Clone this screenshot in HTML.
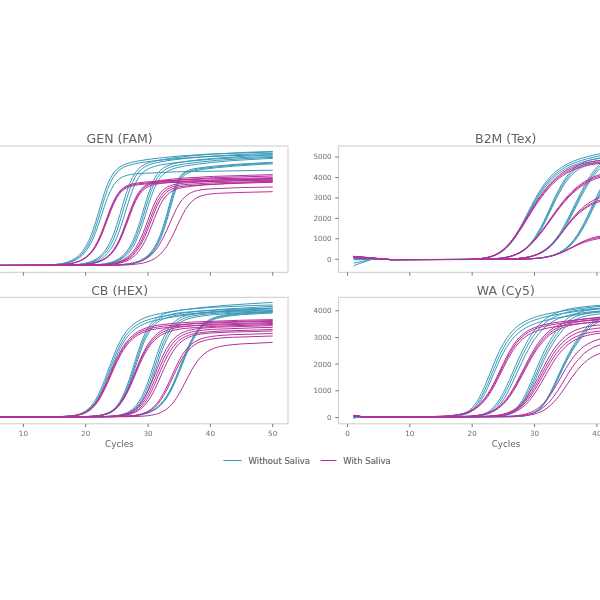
<!DOCTYPE html>
<html><head><meta charset="utf-8"><title>qPCR curves</title>
<style>
html,body{margin:0;padding:0;background:#fff;}
body{width:600px;height:600px;overflow:hidden;position:relative;}
svg{position:absolute;left:0;top:0;display:block;}
text{font-family:"DejaVu Sans","Liberation Sans",sans-serif;fill:#626262;}
.t{font-size:12.5px;text-anchor:middle;}
.k{font-size:7.2px;fill:#6e6e6e;}
.xl{font-size:8.8px;text-anchor:middle;}
.lg{font-family:"DejaVu Sans Condensed","DejaVu Sans","Liberation Sans",sans-serif;font-size:9.45px;stroke:#6a6a6a;stroke-width:0.2px;fill:#666;}
.c path{fill:none;stroke-width:1;stroke-linejoin:round;stroke-linecap:butt;}
.ax{fill:none;stroke:#d4d4d4;stroke-width:1.2;}
.tk{stroke:#555;stroke-width:0.8;fill:none;}
</style></head><body>
<svg width="600" height="600" viewBox="0 0 600 600">

<rect class="ax" x="-48.0" y="146.0" width="336.0" height="126.4"/>
<rect class="ax" x="-48.0" y="297.4" width="336.0" height="126.4"/>
<rect class="ax" x="338.5" y="146.0" width="336.0" height="126.4"/>
<rect class="ax" x="338.5" y="297.4" width="336.0" height="126.4"/>
<g class="c"><path d="M-32.7 265.5L35.8 265.3L45.2 265.1L51.4 264.8L54.6 264.5L57.7 264.2L60.8 263.7L63.9 263.1L67.0 262.2L70.1 261.1L73.3 259.6L76.4 257.6L79.5 254.9L82.6 251.3L85.7 246.6L88.8 240.6L92.0 233.0L95.1 223.9L98.2 213.7L101.3 203.0L104.4 192.9L107.5 184.3L110.7 177.6L113.8 172.7L116.9 169.3L120.0 166.9L123.1 165.2L126.2 163.9L129.4 162.9L132.5 162.1L138.7 160.9L148.1 159.4L163.6 157.5L182.3 155.8L210.4 154.0L269.6 152.1L272.7 152.0M-32.7 265.5L35.8 265.4L48.3 265.0L54.6 264.6L57.7 264.3L60.8 264.0L63.9 263.4L67.0 262.7L70.1 261.7L73.3 260.4L76.4 258.7L79.5 256.4L82.6 253.3L85.7 249.3L88.8 244.0L92.0 237.3L95.1 229.0L98.2 219.4L104.4 198.6L107.5 189.4L110.7 181.9L113.8 176.3L116.9 172.3L120.0 169.5L123.1 167.5L126.2 166.1L129.4 165.1L132.5 164.3L135.6 163.6L141.8 162.5L151.2 161.2L166.8 159.5L188.6 157.7L226.0 155.8L272.7 154.6M-32.7 265.5L39.0 265.3L48.3 265.1L54.6 264.7L57.7 264.5L60.8 264.1L63.9 263.6L67.0 263.0L70.1 262.2L73.3 261.1L76.4 259.6L79.5 257.6L82.6 254.9L85.7 251.4L88.8 246.9L92.0 241.1L95.1 233.9L98.2 225.4L104.4 206.4L107.5 197.6L110.7 190.3L113.8 184.8L116.9 181.0L120.0 178.4L123.1 176.7L126.2 175.6L129.4 174.8L132.5 174.3L135.6 173.9L141.8 173.4L176.1 171.8L272.7 170.2M-32.7 265.5L57.7 265.3L67.0 265.1L73.3 264.8L76.4 264.5L79.5 264.2L82.6 263.7L85.7 263.1L88.8 262.3L92.0 261.2L95.1 259.7L98.2 257.7L101.3 255.1L104.4 251.6L107.5 247.0L110.7 241.0L113.8 233.6L116.9 224.5L120.0 214.3L123.1 203.5L126.2 193.2L129.4 184.3L132.5 177.4L135.6 172.3L138.7 168.6L141.8 166.1L144.9 164.3L148.1 163.0L151.2 162.0L154.3 161.2L157.4 160.5L163.6 159.4L173.0 158.0L188.6 156.1L210.4 154.3L241.6 152.5L272.7 151.4M-32.7 265.5L57.7 265.4L70.1 265.1L76.4 264.7L79.5 264.4L82.6 264.0L85.7 263.5L88.8 262.8L92.0 261.9L95.1 260.7L98.2 259.0L101.3 256.8L104.4 253.9L107.5 250.0L110.7 244.9L113.8 238.5L116.9 230.4L120.0 221.0L126.2 200.0L129.4 190.3L132.5 182.4L135.6 176.3L138.7 172.0L141.8 168.9L144.9 166.8L148.1 165.3L151.2 164.1L154.3 163.2L157.4 162.5L163.6 161.3L173.0 159.9L188.6 158.1L210.4 156.2L241.6 154.4L272.7 153.3M-32.7 265.5L60.8 265.4L73.3 265.0L79.5 264.6L82.6 264.4L85.7 264.0L88.8 263.4L92.0 262.7L95.1 261.7L98.2 260.5L101.3 258.7L104.4 256.4L107.5 253.3L110.7 249.3L113.8 244.0L116.9 237.3L120.0 229.1L123.1 219.6L129.4 199.2L132.5 190.1L135.6 182.8L138.7 177.4L141.8 173.5L144.9 170.8L148.1 168.9L151.2 167.5L154.3 166.5L157.4 165.7L160.5 165.0L166.8 163.9L176.1 162.6L191.7 160.9L213.5 159.1L247.8 157.3L272.7 156.5M-32.7 265.5L79.5 265.3L88.8 265.1L95.1 264.8L98.2 264.5L101.3 264.2L104.4 263.8L107.5 263.2L110.7 262.4L113.8 261.3L116.9 259.9L120.0 258.0L123.1 255.4L126.2 252.0L129.4 247.5L132.5 241.7L135.6 234.5L138.7 225.7L141.8 215.6L144.9 205.0L148.1 194.8L151.2 186.0L154.3 179.0L157.4 173.9L160.5 170.3L163.6 167.8L166.8 166.1L169.9 164.9L173.0 163.9L176.1 163.1L179.2 162.5L185.5 161.5L197.9 159.9L216.6 158.1L244.7 156.2L272.7 155.0M-32.7 265.5L79.5 265.4L92.0 265.0L98.2 264.7L101.3 264.4L104.4 264.0L107.5 263.5L110.7 262.8L113.8 261.8L116.9 260.6L120.0 258.9L123.1 256.7L126.2 253.7L129.4 249.7L132.5 244.6L135.6 238.1L138.7 230.0L141.8 220.6L148.1 200.0L151.2 190.8L154.3 183.2L157.4 177.5L160.5 173.5L163.6 170.7L166.8 168.7L169.9 167.3L173.0 166.3L176.1 165.5L179.2 164.9L185.5 163.8L197.9 162.2L216.6 160.4L244.7 158.6L272.7 157.4M-32.7 265.5L82.6 265.3L92.0 265.1L98.2 264.8L101.3 264.6L104.4 264.2L107.5 263.8L110.7 263.2L113.8 262.4L116.9 261.4L120.0 259.9L123.1 258.0L126.2 255.5L129.4 252.1L132.5 247.6L135.6 241.9L138.7 234.7L141.8 226.1L144.9 216.3L148.1 206.2L151.2 196.6L154.3 188.4L157.4 182.1L160.5 177.4L163.6 174.1L166.8 171.8L169.9 170.1L173.0 168.9L176.1 167.9L179.2 167.2L185.5 165.9L194.8 164.5L210.4 162.6L232.2 160.6L263.4 158.8L272.7 158.4M-32.7 265.5L101.3 265.4L113.8 265.1L120.0 264.7L123.1 264.4L126.2 264.1L129.4 263.6L132.5 263.0L135.6 262.2L138.7 261.1L141.8 259.7L144.9 257.8L148.1 255.3L151.2 251.9L154.3 247.6L157.4 241.8L160.5 234.4L163.6 225.2L166.8 214.4L169.9 202.8L173.0 192.0L176.1 183.4L179.2 177.5L182.3 173.8L185.5 171.6L188.6 170.2L191.7 169.3L194.8 168.6L201.0 167.7L213.5 166.2L235.3 164.3L269.6 162.4L272.7 162.3M-32.7 265.5L104.4 265.3L113.8 265.1L120.0 264.8L126.2 264.2L129.4 263.8L132.5 263.2L135.6 262.4L138.7 261.4L141.8 260.1L144.9 258.3L148.1 256.0L151.2 252.9L154.3 248.8L157.4 243.4L160.5 236.5L163.6 227.7L166.8 217.3L169.9 205.9L173.0 194.9L176.1 185.9L179.2 179.5L182.3 175.4L185.5 172.9L188.6 171.4L191.7 170.4L194.8 169.7L197.9 169.1L204.2 168.2L219.8 166.5L241.6 164.7L272.7 163.0M-32.7 265.5L104.4 265.3L116.9 265.0L123.1 264.6L126.2 264.3L129.4 263.9L132.5 263.4L135.6 262.7L138.7 261.8L141.8 260.6L144.9 259.0L148.1 256.8L151.2 254.0L154.3 250.2L157.4 245.3L160.5 238.8L163.6 230.7L166.8 220.8L173.0 198.5L176.1 188.9L179.2 181.8L182.3 177.2L185.5 174.4L188.6 172.7L191.7 171.6L194.8 170.8L197.9 170.2L204.2 169.2L216.6 167.7L235.3 166.0L263.4 164.2L272.7 163.8" stroke="#3a9ab8"/>
<path d="M-32.7 265.5L45.2 265.3L54.6 265.1L60.8 264.7L63.9 264.4L67.0 264.1L70.1 263.6L73.3 262.9L76.4 262.0L79.5 260.9L82.6 259.3L85.7 257.2L88.8 254.4L92.0 250.8L95.1 246.1L98.2 240.3L101.3 233.1L104.4 224.9L107.5 216.3L110.7 207.9L113.8 200.7L116.9 195.0L120.0 190.9L123.1 188.0L126.2 186.1L129.4 184.8L132.5 183.9L135.6 183.3L138.7 182.8L144.9 182.1L163.6 180.7L210.4 178.8L272.7 177.7M-32.7 265.5L45.2 265.3L54.6 265.1L60.8 264.7L63.9 264.5L67.0 264.1L70.1 263.6L73.3 263.0L76.4 262.2L79.5 261.0L82.6 259.5L85.7 257.5L88.8 254.9L92.0 251.4L95.1 246.9L98.2 241.2L101.3 234.2L104.4 226.2L107.5 217.7L110.7 209.4L113.8 202.1L116.9 196.3L120.0 192.0L123.1 189.1L126.2 187.1L129.4 185.8L132.5 184.9L135.6 184.3L138.7 183.8L144.9 183.1L166.8 181.7L229.1 179.8L272.7 179.2M-32.7 265.5L45.2 265.3L54.6 265.1L60.8 264.8L63.9 264.5L67.0 264.2L70.1 263.7L73.3 263.1L76.4 262.3L79.5 261.3L82.6 259.8L85.7 257.9L88.8 255.4L92.0 252.1L95.1 247.8L98.2 242.3L101.3 235.6L104.4 227.8L110.7 211.0L113.8 203.6L116.9 197.7L120.0 193.3L123.1 190.2L126.2 188.1L129.4 186.8L132.5 185.8L135.6 185.2L138.7 184.7L144.9 184.0L166.8 182.7L232.2 180.7L272.7 180.2M-32.7 265.5L63.9 265.4L76.4 265.0L82.6 264.6L85.7 264.3L88.8 263.9L92.0 263.4L95.1 262.7L98.2 261.7L101.3 260.4L104.4 258.7L107.5 256.4L110.7 253.4L113.8 249.5L116.9 244.4L120.0 238.0L123.1 230.4L126.2 221.9L129.4 213.0L132.5 204.7L135.6 197.7L138.7 192.3L141.8 188.4L144.9 185.7L148.1 183.9L151.2 182.6L154.3 181.7L157.4 181.0L160.5 180.5L166.8 179.7L182.3 178.2L213.5 176.4L272.7 174.6M-32.7 265.5L63.9 265.4L76.4 265.0L82.6 264.7L85.7 264.4L88.8 264.0L92.0 263.5L95.1 262.8L98.2 261.9L101.3 260.7L104.4 259.0L107.5 256.9L110.7 254.0L113.8 250.2L116.9 245.3L120.0 239.2L123.1 231.9L126.2 223.5L129.4 214.8L132.5 206.5L135.6 199.4L138.7 193.9L141.8 189.9L144.9 187.1L148.1 185.2L151.2 183.9L154.3 183.0L157.4 182.3L160.5 181.8L166.8 181.0L182.3 179.6L213.5 177.7L272.7 176.0M-32.7 265.5L63.9 265.4L76.4 265.1L82.6 264.7L85.7 264.4L88.8 264.1L92.0 263.6L95.1 262.9L98.2 262.1L101.3 260.9L104.4 259.3L107.5 257.2L110.7 254.5L113.8 250.9L116.9 246.2L120.0 240.3L123.1 233.2L126.2 225.1L129.4 216.5L132.5 208.3L135.6 201.2L138.7 195.6L141.8 191.5L144.9 188.7L148.1 186.8L151.2 185.5L154.3 184.6L157.4 184.0L160.5 183.5L166.8 182.7L185.5 181.3L226.0 179.5L272.7 178.4M-32.7 265.5L85.7 265.3L95.1 265.1L101.3 264.8L104.4 264.5L107.5 264.2L110.7 263.8L113.8 263.2L116.9 262.4L120.0 261.3L123.1 259.9L126.2 258.0L129.4 255.5L132.5 252.2L135.6 248.0L138.7 242.6L141.8 236.0L144.9 228.3L151.2 211.4L154.3 203.8L157.4 197.6L160.5 192.9L163.6 189.6L166.8 187.4L169.9 185.9L173.0 184.8L176.1 184.2L179.2 183.6L185.5 183.0L204.2 181.8L272.7 179.8M-32.7 265.5L85.7 265.4L98.2 265.0L104.4 264.7L107.5 264.4L110.7 264.0L113.8 263.5L116.9 262.8L120.0 261.9L123.1 260.7L126.2 259.1L129.4 257.0L132.5 254.1L135.6 250.4L138.7 245.7L141.8 239.8L144.9 232.7L148.1 224.7L151.2 216.3L154.3 208.4L157.4 201.6L160.5 196.3L163.6 192.4L166.8 189.7L169.9 187.9L173.0 186.7L176.1 185.9L179.2 185.3L182.3 184.9L188.6 184.3L213.5 182.8L272.7 181.2M-32.7 265.5L88.8 265.3L98.2 265.1L104.4 264.8L107.5 264.5L110.7 264.2L113.8 263.8L116.9 263.2L120.0 262.4L123.1 261.3L126.2 259.9L129.4 258.1L132.5 255.6L135.6 252.3L138.7 248.1L141.8 242.8L144.9 236.3L148.1 228.7L154.3 212.5L157.4 205.3L160.5 199.5L163.6 195.2L166.8 192.1L169.9 190.0L173.0 188.6L176.1 187.6L179.2 186.9L182.3 186.4L188.6 185.7L207.3 184.4L260.3 182.6L272.7 182.3M-32.7 265.5L92.0 265.3L101.3 265.1L107.5 264.7L110.7 264.5L113.8 264.1L116.9 263.7L120.0 263.0L123.1 262.2L126.2 261.1L129.4 259.5L132.5 257.5L135.6 254.9L138.7 251.4L141.8 246.9L144.9 241.3L148.1 234.5L151.2 226.8L154.3 218.7L157.4 211.0L160.5 204.4L163.6 199.1L166.8 195.3L169.9 192.5L173.0 190.6L176.1 189.3L179.2 188.3L182.3 187.6L185.5 187.1L191.7 186.2L204.2 185.0L229.1 183.3L272.7 181.5M-32.7 265.5L104.4 265.3L116.9 265.0L123.1 264.6L126.2 264.4L129.4 264.0L132.5 263.5L135.6 262.9L138.7 262.0L141.8 260.9L144.9 259.4L148.1 257.5L151.2 255.0L154.3 251.8L157.4 247.8L160.5 242.8L163.6 236.9L166.8 230.2L173.0 216.0L176.1 209.5L179.2 204.0L182.3 199.6L185.5 196.4L188.6 194.0L191.7 192.4L194.8 191.2L197.9 190.4L201.0 189.8L204.2 189.4L210.4 188.9L241.6 187.6L272.7 187.0M-32.7 265.5L113.8 265.3L123.1 265.1L129.4 264.8L135.6 264.2L138.7 263.8L141.8 263.3L144.9 262.6L148.1 261.6L151.2 260.4L154.3 258.8L157.4 256.7L160.5 254.0L163.6 250.5L166.8 246.2L169.9 241.0L173.0 235.0L179.2 221.6L182.3 215.2L185.5 209.6L188.6 205.1L191.7 201.6L194.8 199.0L197.9 197.2L201.0 196.0L204.2 195.1L207.3 194.4L210.4 194.0L216.6 193.4L238.5 192.5L272.7 191.7" stroke="#b5309b"/></g>
<g class="c"><path d="M-32.7 416.8L54.6 416.7L63.9 416.4L67.0 416.2L70.1 415.9L73.3 415.5L76.4 414.9L79.5 414.0L82.6 412.7L85.7 410.9L88.8 408.4L92.0 405.0L95.1 400.6L98.2 395.0L101.3 388.2L104.4 380.5L110.7 363.6L113.8 355.4L116.9 348.0L120.0 341.5L123.1 336.0L126.2 331.5L129.4 327.9L132.5 325.0L135.6 322.6L138.7 320.7L141.8 319.2L144.9 317.8L148.1 316.7L151.2 315.8L154.3 314.9L160.5 313.5L169.9 311.8L182.3 309.9L201.0 307.6L226.0 305.3L263.4 302.9L272.7 302.5M-32.7 416.8L54.6 416.7L63.9 416.4L70.1 416.0L73.3 415.7L76.4 415.1L79.5 414.3L82.6 413.2L85.7 411.7L88.8 409.4L92.0 406.4L95.1 402.5L98.2 397.3L101.3 391.1L104.4 383.8L107.5 375.8L113.8 359.3L116.9 351.8L120.0 345.2L123.1 339.6L126.2 334.9L129.4 331.2L132.5 328.2L135.6 325.7L138.7 323.8L141.8 322.2L144.9 320.9L148.1 319.8L151.2 318.8L154.3 318.0L160.5 316.7L169.9 315.0L182.3 313.2L201.0 311.1L229.1 308.8L272.7 306.4M-32.7 416.8L54.6 416.7L63.9 416.5L70.1 416.1L73.3 415.8L76.4 415.3L79.5 414.6L82.6 413.7L85.7 412.2L88.8 410.3L92.0 407.6L95.1 404.0L98.2 399.3L101.3 393.5L104.4 386.6L107.5 379.0L113.8 362.9L116.9 355.4L120.0 348.7L123.1 343.0L126.2 338.2L129.4 334.3L132.5 331.2L135.6 328.7L138.7 326.6L141.8 325.0L144.9 323.6L148.1 322.4L151.2 321.5L154.3 320.6L160.5 319.2L166.8 318.0L179.2 316.0L197.9 313.7L222.9 311.4L260.3 309.1L272.7 308.5M-32.7 416.8L79.5 416.7L88.8 416.4L92.0 416.3L95.1 416.0L98.2 415.6L101.3 415.1L104.4 414.3L107.5 413.1L110.7 411.5L113.8 409.1L116.9 405.8L120.0 401.3L123.1 395.4L126.2 388.0L129.4 379.2L132.5 369.4L135.6 359.3L138.7 349.6L141.8 341.0L144.9 333.7L148.1 327.9L151.2 323.4L154.3 320.0L157.4 317.5L160.5 315.6L163.6 314.1L166.8 313.0L169.9 312.2L173.0 311.5L176.1 310.9L182.3 310.0L191.7 309.0L213.5 307.3L254.0 305.5L272.7 305.0M-32.7 416.8L79.5 416.7L88.8 416.5L95.1 416.1L98.2 415.8L101.3 415.3L104.4 414.6L107.5 413.5L110.7 412.0L113.8 409.9L116.9 407.0L120.0 402.9L123.1 397.5L126.2 390.6L129.4 382.3L132.5 372.9L138.7 353.3L141.8 344.5L144.9 337.0L148.1 330.9L151.2 326.2L154.3 322.7L157.4 320.0L160.5 318.0L163.6 316.6L166.8 315.4L169.9 314.6L173.0 313.9L176.1 313.3L182.3 312.5L191.7 311.6L216.6 309.9L272.7 308.0M-32.7 416.8L82.6 416.7L92.0 416.4L95.1 416.2L98.2 415.9L101.3 415.4L104.4 414.8L107.5 413.9L110.7 412.5L113.8 410.6L116.9 407.9L120.0 404.2L123.1 399.2L126.2 392.8L129.4 385.0L132.5 375.9L138.7 356.7L141.8 347.8L144.9 340.1L148.1 333.9L151.2 329.0L154.3 325.2L157.4 322.4L160.5 320.4L163.6 318.8L166.8 317.6L169.9 316.7L173.0 316.0L176.1 315.4L182.3 314.6L191.7 313.6L213.5 312.1L263.4 310.2L272.7 310.0M-32.7 416.8L95.1 416.7L104.4 416.5L110.7 416.2L113.8 415.9L116.9 415.5L120.0 414.9L123.1 414.1L126.2 413.0L129.4 411.4L132.5 409.1L135.6 406.1L138.7 401.9L141.8 396.5L144.9 389.8L148.1 381.7L151.2 372.5L157.4 353.4L160.5 344.8L163.6 337.4L166.8 331.4L169.9 326.7L173.0 323.2L176.1 320.5L179.2 318.5L182.3 317.0L185.5 315.8L188.6 315.0L191.7 314.3L194.8 313.7L201.0 312.8L210.4 311.8L232.2 310.2L272.7 308.5M-32.7 416.8L98.2 416.7L107.5 416.4L113.8 416.0L116.9 415.7L120.0 415.2L123.1 414.6L126.2 413.6L129.4 412.2L132.5 410.4L135.6 407.8L138.7 404.2L141.8 399.5L144.9 393.5L148.1 386.1L151.2 377.5L157.4 358.7L160.5 349.7L163.6 341.9L166.8 335.3L169.9 330.1L173.0 326.1L176.1 323.1L179.2 320.8L182.3 319.1L185.5 317.9L188.6 316.9L191.7 316.2L194.8 315.6L201.0 314.7L210.4 313.7L232.2 312.2L272.7 310.5M-32.7 416.8L98.2 416.7L107.5 416.5L113.8 416.2L116.9 415.9L120.0 415.5L123.1 414.9L126.2 414.1L129.4 413.0L132.5 411.4L135.6 409.1L138.7 406.1L141.8 402.0L144.9 396.6L148.1 389.9L151.2 381.9L154.3 373.0L160.5 354.5L163.6 346.3L166.8 339.2L169.9 333.5L173.0 329.1L176.1 325.7L179.2 323.1L182.3 321.2L185.5 319.8L188.6 318.7L191.7 317.8L194.8 317.1L197.9 316.6L204.2 315.7L213.5 314.7L235.3 313.1L272.7 311.5M-32.7 416.8L110.7 416.6L123.1 416.3L129.4 416.0L132.5 415.7L135.6 415.4L138.7 414.9L141.8 414.3L144.9 413.5L148.1 412.5L151.2 411.1L154.3 409.3L157.4 407.0L160.5 404.1L163.6 400.4L166.8 395.9L169.9 390.4L173.0 384.0L176.1 376.7L185.5 353.0L188.6 345.8L191.7 339.3L194.8 333.9L197.9 329.4L201.0 325.9L204.2 323.0L207.3 320.9L210.4 319.2L213.5 317.8L216.6 316.8L219.8 316.0L222.9 315.4L226.0 314.8L232.2 314.0L241.6 313.2L266.5 311.8L272.7 311.5M-32.7 416.8L110.7 416.7L123.1 416.4L129.4 416.0L135.6 415.5L138.7 415.0L141.8 414.5L144.9 413.7L148.1 412.7L151.2 411.4L154.3 409.7L157.4 407.6L160.5 404.8L163.6 401.3L166.8 396.9L169.9 391.6L173.0 385.4L176.1 378.4L179.2 370.7L185.5 354.9L188.6 347.5L191.7 341.0L194.8 335.4L197.9 330.8L201.0 327.1L204.2 324.2L207.3 321.9L210.4 320.1L213.5 318.7L216.6 317.7L219.8 316.8L222.9 316.2L226.0 315.6L232.2 314.8L241.6 313.9L266.5 312.5L272.7 312.2M-32.7 416.8L110.7 416.7L123.1 416.4L129.4 416.1L135.6 415.5L138.7 415.1L141.8 414.6L144.9 413.8L148.1 412.9L151.2 411.7L154.3 410.1L157.4 408.0L160.5 405.3L163.6 402.0L166.8 397.8L169.9 392.7L173.0 386.6L176.1 379.7L179.2 372.2L185.5 356.5L188.6 349.1L191.7 342.4L194.8 336.7L197.9 332.0L201.0 328.2L204.2 325.2L207.3 322.8L210.4 321.0L213.5 319.6L216.6 318.5L219.8 317.7L222.9 317.0L226.0 316.4L232.2 315.6L241.6 314.7L266.5 313.3L272.7 313.0" stroke="#3a9ab8"/>
<path d="M-32.7 416.8L54.6 416.7L63.9 416.5L70.1 416.1L73.3 415.8L76.4 415.3L79.5 414.5L82.6 413.5L85.7 412.0L88.8 410.0L92.0 407.3L95.1 403.6L98.2 399.0L101.3 393.5L104.4 387.0L107.5 379.9L113.8 365.2L116.9 358.3L120.0 352.1L123.1 346.8L126.2 342.3L129.4 338.6L132.5 335.6L135.6 333.2L138.7 331.2L141.8 329.7L144.9 328.4L148.1 327.4L151.2 326.6L154.3 325.9L157.4 325.3L163.6 324.4L173.0 323.4L191.7 322.1L238.5 320.3L272.7 319.6M-32.7 416.8L57.7 416.7L63.9 416.5L70.1 416.1L73.3 415.8L76.4 415.4L79.5 414.7L82.6 413.7L85.7 412.4L88.8 410.5L92.0 407.9L95.1 404.5L98.2 400.1L101.3 394.7L104.4 388.5L107.5 381.6L113.8 367.1L116.9 360.2L120.0 354.0L123.1 348.6L126.2 344.1L129.4 340.4L132.5 337.3L135.6 334.9L138.7 332.9L141.8 331.3L144.9 330.1L148.1 329.1L151.2 328.2L154.3 327.6L157.4 327.0L163.6 326.1L173.0 325.1L191.7 323.8L241.6 322.0L272.7 321.4M-32.7 416.8L57.7 416.7L67.0 416.4L70.1 416.2L73.3 415.9L76.4 415.5L79.5 414.8L82.6 414.0L85.7 412.7L88.8 410.9L92.0 408.5L95.1 405.2L98.2 401.1L101.3 395.9L104.4 389.9L107.5 383.2L113.8 368.9L116.9 362.1L120.0 355.9L123.1 350.5L126.2 345.9L129.4 342.1L132.5 339.0L135.6 336.6L138.7 334.6L141.8 333.0L144.9 331.8L148.1 330.8L151.2 329.9L154.3 329.3L157.4 328.7L163.6 327.9L173.0 326.9L194.8 325.6L266.5 323.6L272.7 323.5M-32.7 416.8L79.5 416.7L88.8 416.4L95.1 416.0L98.2 415.7L101.3 415.1L104.4 414.4L107.5 413.3L110.7 411.8L113.8 409.7L116.9 406.9L120.0 403.1L123.1 398.4L126.2 392.5L129.4 385.8L132.5 378.3L138.7 362.9L141.8 355.8L144.9 349.5L148.1 344.2L151.2 339.8L154.3 336.3L157.4 333.5L160.5 331.3L163.6 329.6L166.8 328.3L169.9 327.2L173.0 326.4L176.1 325.7L179.2 325.2L185.5 324.4L194.8 323.5L219.8 322.0L272.7 320.5M-32.7 416.8L79.5 416.7L88.8 416.5L95.1 416.1L98.2 415.7L101.3 415.2L104.4 414.5L107.5 413.5L110.7 412.1L113.8 410.1L116.9 407.4L120.0 403.8L123.1 399.2L126.2 393.6L129.4 387.1L132.5 379.8L138.7 364.7L141.8 357.7L144.9 351.5L148.1 346.2L151.2 341.9L154.3 338.4L157.4 335.6L160.5 333.4L163.6 331.7L166.8 330.3L169.9 329.3L173.0 328.4L176.1 327.8L179.2 327.2L185.5 326.4L194.8 325.5L219.8 324.0L272.7 322.5M-32.7 416.8L79.5 416.7L88.8 416.5L95.1 416.1L98.2 415.8L101.3 415.3L104.4 414.6L107.5 413.7L110.7 412.3L113.8 410.4L116.9 407.8L120.0 404.4L123.1 400.0L126.2 394.6L129.4 388.3L132.5 381.2L138.7 366.5L141.8 359.6L144.9 353.5L148.1 348.2L151.2 343.9L154.3 340.4L157.4 337.6L160.5 335.4L163.6 333.7L166.8 332.4L169.9 331.3L173.0 330.5L176.1 329.8L179.2 329.2L185.5 328.4L194.8 327.5L216.6 326.2L272.7 324.5M-32.7 416.8L98.2 416.7L107.5 416.4L113.8 416.1L116.9 415.8L120.0 415.3L123.1 414.7L126.2 413.9L129.4 412.6L132.5 411.0L135.6 408.7L138.7 405.6L141.8 401.7L144.9 396.6L148.1 390.6L151.2 383.6L157.4 368.2L160.5 360.8L163.6 354.0L166.8 348.2L169.9 343.4L173.0 339.6L176.1 336.6L179.2 334.4L182.3 332.7L185.5 331.4L188.6 330.4L191.7 329.6L194.8 329.1L197.9 328.6L204.2 328.0L216.6 327.2L272.7 325.6M-32.7 416.8L101.3 416.7L110.7 416.4L116.9 416.0L120.0 415.6L123.1 415.1L126.2 414.4L129.4 413.4L132.5 412.0L135.6 410.1L138.7 407.5L141.8 404.1L144.9 399.7L148.1 394.2L151.2 387.8L154.3 380.7L160.5 365.6L163.6 358.7L166.8 352.5L169.9 347.3L173.0 343.1L176.1 339.8L179.2 337.3L182.3 335.3L185.5 333.9L188.6 332.8L191.7 331.9L194.8 331.3L197.9 330.8L204.2 330.0L213.5 329.3L260.3 327.6L272.7 327.4M-32.7 416.8L101.3 416.7L110.7 416.5L116.9 416.1L120.0 415.8L123.1 415.4L126.2 414.8L129.4 414.0L132.5 412.9L135.6 411.3L138.7 409.1L141.8 406.2L144.9 402.4L148.1 397.7L151.2 391.9L154.3 385.3L160.5 370.6L163.6 363.5L166.8 357.0L169.9 351.5L173.0 346.9L176.1 343.2L179.2 340.4L182.3 338.2L185.5 336.5L188.6 335.3L191.7 334.3L194.8 333.6L197.9 333.0L201.0 332.6L207.3 331.9L219.8 331.1L272.7 329.5M-32.7 416.8L101.3 416.7L110.7 416.5L116.9 416.1L120.0 415.9L123.1 415.5L126.2 415.0L129.4 414.3L132.5 413.4L135.6 412.1L138.7 410.4L141.8 408.0L144.9 405.0L148.1 401.1L151.2 396.2L154.3 390.4L157.4 383.9L163.6 369.7L166.8 362.8L169.9 356.7L173.0 351.4L176.1 347.0L179.2 343.6L182.3 340.9L185.5 338.8L188.6 337.3L191.7 336.1L194.8 335.2L197.9 334.6L201.0 334.0L204.2 333.6L210.4 333.0L226.0 332.2L272.7 331.0M-32.7 416.8L113.8 416.7L123.1 416.4L129.4 416.0L132.5 415.7L135.6 415.3L138.7 414.7L141.8 413.8L144.9 412.7L148.1 411.2L151.2 409.1L154.3 406.4L157.4 402.9L160.5 398.4L163.6 393.1L166.8 387.0L169.9 380.3L176.1 366.5L179.2 360.3L182.3 354.9L185.5 350.4L188.6 346.8L191.7 343.9L194.8 341.8L197.9 340.1L201.0 338.8L204.2 337.9L207.3 337.2L210.4 336.6L213.5 336.2L219.8 335.5L232.2 334.7L272.7 333.5M-32.7 416.8L113.8 416.7L123.1 416.4L129.4 416.1L132.5 415.8L135.6 415.5L138.7 414.9L141.8 414.2L144.9 413.2L148.1 411.9L151.2 410.0L154.3 407.6L157.4 404.5L160.5 400.5L163.6 395.6L166.8 389.9L169.9 383.5L176.1 370.2L179.2 364.0L182.3 358.4L185.5 353.8L188.6 350.0L191.7 347.0L194.8 344.7L197.9 342.9L201.0 341.6L204.2 340.6L207.3 339.8L210.4 339.2L213.5 338.8L219.8 338.1L232.2 337.3L272.7 336.0M-32.7 416.8L129.4 416.7L138.7 416.4L144.9 416.0L148.1 415.7L151.2 415.2L154.3 414.6L157.4 413.8L160.5 412.6L163.6 411.1L166.8 409.0L169.9 406.3L173.0 402.9L176.1 398.6L179.2 393.6L182.3 387.9L188.6 375.8L191.7 370.0L194.8 364.8L197.9 360.4L201.0 356.8L204.2 353.9L207.3 351.6L210.4 349.9L213.5 348.5L216.6 347.4L219.8 346.6L222.9 346.0L226.0 345.5L232.2 344.7L241.6 343.9L272.7 342.4" stroke="#b5309b"/></g>
<g class="c"><path d="M353.7 265.6L372.4 259.1L391.1 259.6L459.7 259.5L469.1 259.3L475.3 259.0L478.4 258.7L481.5 258.4L484.6 257.9L487.8 257.3L490.9 256.5L494.0 255.4L497.1 254.0L500.2 252.1L503.4 249.8L506.5 247.0L509.6 243.5L512.7 239.4L515.8 234.7L518.9 229.4L522.1 223.8L531.4 205.7L534.5 199.9L537.6 194.4L540.8 189.4L543.9 184.8L547.0 180.7L550.1 177.1L553.2 174.0L556.3 171.2L559.5 168.8L562.6 166.7L565.7 164.9L568.8 163.3L571.9 161.8L575.0 160.6L578.2 159.4L581.3 158.4L587.5 156.6L593.7 155.1L603.1 153.1L606.2 152.5M353.7 263.1L372.4 259.1L391.1 259.6L462.8 259.4L472.2 259.2L478.4 258.8L481.5 258.4L484.6 258.0L487.8 257.4L490.9 256.6L494.0 255.6L497.1 254.2L500.2 252.5L503.4 250.3L506.5 247.5L509.6 244.2L512.7 240.3L515.8 235.7L518.9 230.6L522.1 225.1L531.4 207.4L534.5 201.7L537.6 196.3L540.8 191.3L543.9 186.8L547.0 182.7L550.1 179.1L553.2 176.0L556.3 173.3L559.5 170.9L562.6 168.8L565.7 166.9L568.8 165.3L571.9 163.9L575.0 162.6L578.2 161.5L581.3 160.5L587.5 158.7L593.7 157.1L603.1 155.1L606.2 154.5M353.7 257.1L372.4 259.1L391.1 259.6L462.8 259.4L472.2 259.2L478.4 258.8L481.5 258.5L484.6 258.1L487.8 257.5L490.9 256.8L494.0 255.8L497.1 254.5L500.2 252.8L503.4 250.7L506.5 248.1L509.6 244.9L512.7 241.1L515.8 236.7L518.9 231.7L522.1 226.3L531.4 209.0L534.5 203.4L537.6 198.1L540.8 193.2L543.9 188.7L547.0 184.7L550.1 181.1L553.2 178.0L556.3 175.3L559.5 172.9L562.6 170.8L565.7 169.0L568.8 167.4L571.9 165.9L575.0 164.7L578.2 163.5L581.3 162.5L587.5 160.7L593.7 159.2L603.1 157.2L606.2 156.6M353.7 259.1L372.4 259.1L391.1 259.6L475.3 259.4L487.8 259.1L494.0 258.7L500.2 258.1L503.4 257.7L506.5 257.1L509.6 256.4L512.7 255.5L515.8 254.3L518.9 252.8L522.1 250.9L525.2 248.5L528.3 245.6L531.4 242.1L534.5 237.9L537.6 233.0L540.8 227.4L543.9 221.2L547.0 214.6L553.2 200.9L556.3 194.4L559.5 188.2L562.6 182.7L565.7 177.9L568.8 173.8L571.9 170.4L575.0 167.5L578.2 165.3L581.3 163.5L584.4 162.0L587.5 160.9L590.6 160.0L593.7 159.3L596.9 158.8L600.0 158.4L606.2 157.9M353.7 257.6L372.4 259.1L391.1 259.6L475.3 259.4L487.8 259.1L494.0 258.8L500.2 258.2L503.4 257.8L506.5 257.2L509.6 256.5L512.7 255.7L515.8 254.5L518.9 253.1L522.1 251.3L525.2 249.0L528.3 246.3L531.4 242.9L534.5 238.8L537.6 234.1L540.8 228.7L543.9 222.7L547.0 216.3L553.2 202.9L556.3 196.4L559.5 190.4L562.6 184.9L565.7 180.1L568.8 175.9L571.9 172.5L575.0 169.7L578.2 167.4L581.3 165.5L584.4 164.1L587.5 163.0L590.6 162.1L593.7 161.4L596.9 160.8L600.0 160.4L606.2 159.9M353.7 257.6L372.4 259.1L391.1 259.6L475.3 259.4L487.8 259.1L494.0 258.8L500.2 258.3L503.4 257.9L506.5 257.4L509.6 256.7L512.7 255.9L515.8 254.8L518.9 253.5L522.1 251.8L525.2 249.6L528.3 247.0L531.4 243.8L534.5 239.9L537.6 235.4L540.8 230.2L543.9 224.4L547.0 218.1L553.2 205.0L556.3 198.6L559.5 192.6L562.6 187.1L565.7 182.3L568.8 178.2L571.9 174.7L575.0 171.8L578.2 169.5L581.3 167.7L584.4 166.2L587.5 165.0L590.6 164.1L593.7 163.4L596.9 162.9L600.0 162.5L606.2 161.9M353.7 259.8L372.4 259.1L391.1 259.6L494.0 259.4L506.5 259.2L512.7 258.9L518.9 258.4L522.1 258.0L525.2 257.5L528.3 256.9L531.4 256.2L534.5 255.2L537.6 254.0L540.8 252.4L543.9 250.5L547.0 248.2L550.1 245.4L553.2 242.1L556.3 238.2L559.5 233.7L562.6 228.6L565.7 223.0L568.8 217.0L578.2 197.9L581.3 191.7L584.4 185.8L587.5 180.4L590.6 175.4L593.7 171.1L596.9 167.2L600.0 163.9L603.1 161.1L606.2 158.7M353.7 258.1L372.4 259.1L391.1 259.6L497.1 259.4L509.6 259.1L515.8 258.7L522.1 258.1L525.2 257.7L528.3 257.1L531.4 256.4L534.5 255.5L537.6 254.3L540.8 252.9L543.9 251.1L547.0 248.9L550.1 246.2L553.2 243.1L556.3 239.3L559.5 235.0L562.6 230.1L565.7 224.7L568.8 218.9L581.3 194.0L584.4 188.2L587.5 182.8L590.6 177.8L593.7 173.4L596.9 169.5L600.0 166.2L603.1 163.3L606.2 160.9M353.7 258.6L391.1 259.6L497.1 259.4L509.6 259.1L515.8 258.8L522.1 258.2L525.2 257.8L528.3 257.2L531.4 256.6L534.5 255.7L537.6 254.6L540.8 253.3L543.9 251.6L547.0 249.5L550.1 247.0L553.2 244.0L556.3 240.4L559.5 236.3L562.6 231.6L565.7 226.4L568.8 220.7L571.9 214.8L581.3 196.3L584.4 190.5L587.5 185.1L590.6 180.2L593.7 175.8L596.9 171.9L600.0 168.5L603.1 165.6L606.2 163.1M353.7 257.6L372.4 259.1L391.1 259.6L512.7 259.4L525.2 259.1L531.4 258.7L537.6 258.2L540.8 257.8L543.9 257.3L547.0 256.7L550.1 256.0L553.2 255.0L556.3 253.8L559.5 252.3L562.6 250.5L565.7 248.2L568.8 245.4L571.9 242.1L575.0 238.1L578.2 233.5L581.3 228.2L584.4 222.4L587.5 216.0L596.9 196.0L600.0 189.7L603.1 183.9L606.2 178.7M353.7 256.6L372.4 259.1L391.1 259.6L512.7 259.4L525.2 259.1L531.4 258.8L537.6 258.3L540.8 257.9L543.9 257.5L547.0 256.9L550.1 256.2L553.2 255.3L556.3 254.2L559.5 252.8L562.6 251.0L565.7 248.9L568.8 246.3L571.9 243.1L575.0 239.3L578.2 234.9L581.3 229.9L584.4 224.2L587.5 218.1L596.9 198.4L600.0 192.1L603.1 186.4L606.2 181.2M353.7 258.9L372.4 259.1L391.1 259.6L512.7 259.4L525.2 259.1L531.4 258.8L537.6 258.4L540.8 258.0L543.9 257.6L547.0 257.1L550.1 256.4L553.2 255.6L556.3 254.5L559.5 253.2L562.6 251.5L565.7 249.5L568.8 247.0L571.9 244.0L575.0 240.5L578.2 236.2L581.3 231.4L584.4 226.0L587.5 220.0L596.9 200.8L600.0 194.6L603.1 188.8L606.2 183.6" stroke="#3a9ab8"/>
<path d="M353.7 256.4L391.1 259.6L462.8 259.5L472.2 259.3L478.4 258.9L481.5 258.5L484.6 258.0L487.8 257.4L490.9 256.4L494.0 255.2L497.1 253.7L500.2 251.7L503.4 249.3L506.5 246.4L509.6 243.0L512.7 239.1L515.8 234.8L518.9 230.1L522.1 225.1L531.4 209.7L534.5 204.7L537.6 199.9L540.8 195.4L543.9 191.1L547.0 187.2L550.1 183.6L553.2 180.4L556.3 177.6L559.5 175.0L562.6 172.7L565.7 170.7L568.8 169.0L571.9 167.5L575.0 166.1L578.2 165.0L581.3 164.0L584.4 163.2L587.5 162.4L590.6 161.8L596.9 160.8L603.1 160.1L606.2 159.8M353.7 257.0L391.1 259.6L462.8 259.5L472.2 259.3L478.4 258.9L481.5 258.6L484.6 258.1L487.8 257.5L490.9 256.6L494.0 255.4L497.1 253.9L500.2 252.0L503.4 249.7L506.5 246.8L509.6 243.5L512.7 239.8L515.8 235.5L518.9 231.0L522.1 226.1L531.4 210.9L534.5 206.0L537.6 201.2L540.8 196.7L543.9 192.5L547.0 188.6L550.1 185.1L553.2 181.9L556.3 179.0L559.5 176.5L562.6 174.2L565.7 172.2L568.8 170.5L571.9 169.0L575.0 167.6L578.2 166.5L581.3 165.5L584.4 164.7L587.5 163.9L590.6 163.3L596.9 162.3L603.1 161.6L606.2 161.3M353.7 257.4L391.1 259.6L465.9 259.5L472.2 259.3L478.4 258.9L481.5 258.6L484.6 258.2L487.8 257.6L490.9 256.7L494.0 255.6L497.1 254.2L500.2 252.3L503.4 250.1L506.5 247.3L509.6 244.1L512.7 240.4L515.8 236.3L518.9 231.8L522.1 227.1L534.5 207.2L537.6 202.5L540.8 198.1L543.9 193.9L547.0 190.0L550.1 186.5L553.2 183.3L556.3 180.5L559.5 177.9L562.6 175.7L565.7 173.7L568.8 172.0L571.9 170.5L575.0 169.1L578.2 168.0L581.3 167.0L584.4 166.2L587.5 165.4L590.6 164.8L596.9 163.8L603.1 163.1L606.2 162.8M353.7 256.6L391.1 259.6L478.4 259.5L487.8 259.3L494.0 258.9L497.1 258.7L500.2 258.4L503.4 257.9L506.5 257.3L509.6 256.6L512.7 255.6L515.8 254.4L518.9 252.9L522.1 251.0L525.2 248.8L528.3 246.2L531.4 243.3L534.5 239.9L537.6 236.2L540.8 232.2L543.9 228.0L556.3 210.3L559.5 206.1L562.6 202.1L565.7 198.3L568.8 194.8L571.9 191.6L575.0 188.7L578.2 186.1L581.3 183.8L584.4 181.7L587.5 179.9L590.6 178.3L593.7 176.9L596.9 175.6L600.0 174.6L603.1 173.6L606.2 172.9M353.7 257.6L391.1 259.6L478.4 259.5L487.8 259.3L494.0 259.0L497.1 258.7L500.2 258.4L503.4 258.0L506.5 257.4L509.6 256.6L512.7 255.7L515.8 254.5L518.9 253.0L522.1 251.2L525.2 249.1L528.3 246.5L531.4 243.6L534.5 240.3L537.6 236.7L540.8 232.7L543.9 228.6L556.3 211.2L559.5 207.1L562.6 203.1L565.7 199.4L568.8 196.0L571.9 192.8L575.0 190.0L578.2 187.4L581.3 185.1L584.4 183.0L587.5 181.2L590.6 179.6L593.7 178.2L596.9 177.0L600.0 176.0L603.1 175.1L606.2 174.3M353.7 256.8L391.1 259.6L478.4 259.5L487.8 259.3L494.0 259.0L497.1 258.7L500.2 258.4L503.4 258.0L506.5 257.4L509.6 256.7L512.7 255.8L515.8 254.6L518.9 253.2L522.1 251.4L525.2 249.3L528.3 246.8L531.4 243.9L534.5 240.7L537.6 237.1L540.8 233.3L543.9 229.2L556.3 212.1L559.5 208.0L562.6 204.1L565.7 200.5L568.8 197.1L571.9 194.0L575.0 191.2L578.2 188.6L581.3 186.4L584.4 184.3L587.5 182.6L590.6 181.0L593.7 179.6L596.9 178.4L600.0 177.4L603.1 176.5L606.2 175.7M353.7 256.3L391.1 259.6L497.1 259.4L509.6 259.1L515.8 258.7L522.1 258.1L525.2 257.6L528.3 257.1L531.4 256.3L534.5 255.4L537.6 254.3L540.8 252.8L543.9 251.0L547.0 248.8L550.1 246.2L553.2 243.1L556.3 239.6L559.5 235.7L568.8 223.1L571.9 219.0L575.0 215.3L578.2 211.9L581.3 208.9L584.4 206.2L587.5 203.9L590.6 201.9L593.7 200.1L596.9 198.7L600.0 197.6L603.1 196.6L606.2 195.9M353.7 257.4L391.1 259.6L497.1 259.4L509.6 259.1L515.8 258.7L522.1 258.0L525.2 257.6L528.3 257.0L531.4 256.2L534.5 255.3L537.6 254.1L540.8 252.6L543.9 250.8L547.0 248.5L550.1 245.9L553.2 242.8L556.3 239.3L559.5 235.5L568.8 223.5L571.9 219.7L575.0 216.3L578.2 213.2L581.3 210.4L584.4 208.0L587.5 205.8L590.6 204.0L593.7 202.4L596.9 201.2L600.0 200.1L603.1 199.3L606.2 198.6M353.7 256.6L391.1 259.6L497.1 259.4L509.6 259.1L515.8 258.7L522.1 258.1L525.2 257.6L528.3 257.0L531.4 256.3L534.5 255.3L537.6 254.1L540.8 252.6L543.9 250.8L547.0 248.6L550.1 245.9L553.2 242.9L556.3 239.5L559.5 235.7L568.8 224.0L571.9 220.4L575.0 217.0L578.2 214.0L581.3 211.4L584.4 209.1L587.5 207.0L590.6 205.2L593.7 203.7L596.9 202.5L600.0 201.5L603.1 200.6L606.2 200.0M353.7 257.0L391.1 259.6L509.6 259.4L525.2 259.0L531.4 258.7L537.6 258.2L540.8 257.9L543.9 257.5L547.0 256.9L550.1 256.3L553.2 255.5L556.3 254.5L559.5 253.4L562.6 252.1L565.7 250.6L568.8 249.0L578.2 243.8L581.3 242.2L584.4 240.8L587.5 239.5L590.6 238.4L593.7 237.5L596.9 236.7L600.0 236.1L603.1 235.5L606.2 235.1M353.7 256.4L391.1 259.6L512.7 259.4L525.2 259.1L531.4 258.7L537.6 258.2L540.8 257.9L543.9 257.5L547.0 256.9L550.1 256.3L553.2 255.5L556.3 254.5L559.5 253.4L562.6 252.1L565.7 250.7L578.2 244.3L581.3 242.8L584.4 241.5L587.5 240.4L590.6 239.4L593.7 238.5L596.9 237.9L600.0 237.3L603.1 236.8L606.2 236.4M353.7 257.2L391.1 259.6L512.7 259.4L525.2 259.1L531.4 258.7L537.6 258.2L540.8 257.9L543.9 257.5L547.0 256.9L550.1 256.3L553.2 255.5L556.3 254.6L559.5 253.4L562.6 252.2L565.7 250.8L575.0 246.2L578.2 244.8L581.3 243.5L584.4 242.3L587.5 241.3L590.6 240.4L593.7 239.7L596.9 239.0L600.0 238.5L606.2 237.8" stroke="#b5309b"/></g>
<g class="c"><path d="M353.7 417.8L363.1 416.8L441.0 416.7L447.2 416.5L450.4 416.4L453.5 416.1L456.6 415.7L459.7 415.0L462.8 414.1L465.9 412.7L469.1 410.7L472.2 407.8L475.3 404.0L478.4 399.2L481.5 393.2L484.6 386.4L487.8 378.9L494.0 363.3L497.1 356.0L500.2 349.4L503.4 343.6L506.5 338.5L509.6 334.3L512.7 330.7L515.8 327.7L518.9 325.2L522.1 323.1L525.2 321.4L528.3 319.8L531.4 318.5L534.5 317.4L537.6 316.4L540.8 315.5L547.0 314.0L553.2 312.7L562.6 311.0L578.2 308.8L600.0 306.2L606.2 305.6M353.7 417.3L363.1 416.8L441.0 416.7L447.2 416.6L453.5 416.2L456.6 415.9L459.7 415.4L462.8 414.7L465.9 413.5L469.1 411.9L472.2 409.5L475.3 406.3L478.4 402.1L481.5 396.8L484.6 390.5L487.8 383.5L494.0 368.3L497.1 360.9L500.2 354.1L503.4 348.0L506.5 342.7L509.6 338.2L512.7 334.3L515.8 331.1L518.9 328.5L522.1 326.2L525.2 324.3L528.3 322.7L531.4 321.3L534.5 320.1L537.6 319.1L540.8 318.1L547.0 316.5L553.2 315.2L562.6 313.5L578.2 311.2L600.0 308.6L606.2 308.0M353.7 416.3L363.1 416.8L444.1 416.7L450.4 416.5L453.5 416.4L456.6 416.1L459.7 415.7L462.8 415.1L465.9 414.2L469.1 412.8L472.2 410.8L475.3 408.1L478.4 404.4L481.5 399.7L484.6 394.1L487.8 387.5L490.9 380.4L497.1 365.8L500.2 359.0L503.4 352.8L506.5 347.3L509.6 342.6L512.7 338.7L515.8 335.3L518.9 332.5L522.1 330.2L525.2 328.2L528.3 326.5L531.4 325.1L534.5 323.8L537.6 322.7L540.8 321.8L547.0 320.1L553.2 318.7L562.6 317.0L575.0 315.1L593.7 312.7L606.2 311.4M353.7 417.8L363.1 416.8L462.8 416.7L469.1 416.5L472.2 416.3L475.3 416.0L478.4 415.5L481.5 414.8L484.6 413.7L487.8 412.1L490.9 409.8L494.0 406.8L497.1 403.0L500.2 398.2L503.4 392.6L506.5 386.3L509.6 379.5L518.9 358.1L522.1 351.4L525.2 345.2L528.3 339.6L531.4 334.6L534.5 330.2L537.6 326.4L540.8 323.1L543.9 320.3L547.0 318.0L550.1 316.0L553.2 314.3L556.3 312.9L559.5 311.7L562.6 310.7L565.7 309.8L568.8 309.1L571.9 308.5L578.2 307.5L584.4 306.7L596.9 305.6L606.2 305.0M353.7 416.8L462.8 416.7L469.1 416.6L472.2 416.5L475.3 416.2L478.4 415.8L481.5 415.3L484.6 414.4L487.8 413.1L490.9 411.2L494.0 408.7L497.1 405.3L500.2 401.2L503.4 396.1L506.5 390.3L509.6 383.9L518.9 363.0L522.1 356.2L525.2 349.9L528.3 344.1L531.4 338.9L534.5 334.3L537.6 330.3L540.8 326.9L543.9 323.9L547.0 321.4L550.1 319.3L553.2 317.5L556.3 315.9L559.5 314.7L562.6 313.6L565.7 312.7L568.8 311.9L571.9 311.2L578.2 310.2L584.4 309.4L593.7 308.5L606.2 307.6M353.7 415.8L363.1 416.8L465.9 416.7L472.2 416.6L475.3 416.4L478.4 416.1L481.5 415.7L484.6 415.0L487.8 414.0L490.9 412.5L494.0 410.5L497.1 407.7L500.2 404.2L503.4 399.8L506.5 394.6L509.6 388.7L512.7 382.2L522.1 361.9L525.2 355.5L528.3 349.6L531.4 344.2L534.5 339.3L537.6 335.1L540.8 331.4L543.9 328.2L547.0 325.5L550.1 323.2L553.2 321.3L556.3 319.6L559.5 318.2L562.6 317.1L565.7 316.1L568.8 315.3L571.9 314.5L575.0 313.9L581.3 313.0L587.5 312.2L600.0 311.1L606.2 310.7M353.7 417.3L363.1 416.8L484.6 416.7L490.9 416.6L494.0 416.4L497.1 416.2L500.2 415.8L503.4 415.3L506.5 414.4L509.6 413.1L512.7 411.3L515.8 408.6L518.9 405.1L522.1 400.5L525.2 394.9L528.3 388.4L531.4 381.2L537.6 366.1L540.8 358.8L543.9 352.0L547.0 345.9L550.1 340.3L553.2 335.2L556.3 330.7L559.5 326.6L562.6 322.9L565.7 319.9L568.8 317.5L571.9 315.5L575.0 314.0L578.2 312.7L581.3 311.7L584.4 310.9L587.5 310.3L590.6 309.8L596.9 309.0L603.1 308.5L606.2 308.4M353.7 417.8L363.1 416.8L484.6 416.7L494.0 416.5L497.1 416.3L500.2 416.0L503.4 415.6L506.5 414.9L509.6 413.8L512.7 412.2L515.8 410.0L518.9 406.9L522.1 402.9L525.2 397.9L528.3 391.8L531.4 385.0L540.8 363.2L543.9 356.4L547.0 350.1L550.1 344.4L553.2 339.3L556.3 334.6L559.5 330.4L562.6 326.6L565.7 323.3L568.8 320.7L571.9 318.6L575.0 317.0L578.2 315.6L581.3 314.5L584.4 313.7L587.5 313.0L590.6 312.4L593.7 312.0L600.0 311.3L606.2 310.9M353.7 416.8L487.8 416.7L494.0 416.6L497.1 416.4L500.2 416.2L503.4 415.8L506.5 415.2L509.6 414.3L512.7 413.0L515.8 411.1L518.9 408.4L522.1 404.8L525.2 400.3L528.3 394.7L531.4 388.4L534.5 381.4L540.8 367.2L543.9 360.4L547.0 354.1L550.1 348.3L553.2 343.1L556.3 338.4L559.5 334.1L562.6 330.1L565.7 326.7L568.8 323.9L571.9 321.7L575.0 319.9L578.2 318.5L581.3 317.3L584.4 316.4L587.5 315.7L590.6 315.1L593.7 314.6L600.0 313.9L606.2 313.5M353.7 417.8L363.1 416.8L509.6 416.7L515.8 416.5L518.9 416.4L522.1 416.1L525.2 415.6L528.3 414.9L531.4 413.9L534.5 412.4L537.6 410.2L540.8 407.2L543.9 403.4L547.0 398.6L550.1 393.0L553.2 386.6L562.6 366.1L565.7 359.6L568.8 353.5L571.9 347.9L575.0 342.8L578.2 338.1L581.3 333.9L584.4 330.0L587.5 326.4L590.6 323.2L593.7 320.6L596.9 318.6L600.0 317.1L603.1 315.9L606.2 314.9M353.7 415.8L363.1 416.8L509.6 416.7L515.8 416.6L518.9 416.4L522.1 416.1L525.2 415.7L528.3 415.0L531.4 414.1L534.5 412.6L537.6 410.5L540.8 407.7L543.9 404.0L547.0 399.4L550.1 393.9L553.2 387.8L562.6 367.7L565.7 361.3L568.8 355.3L571.9 349.7L575.0 344.7L578.2 340.1L581.3 335.8L584.4 332.0L587.5 328.4L590.6 325.2L593.7 322.7L596.9 320.6L600.0 319.1L603.1 317.9L606.2 316.9M353.7 417.3L363.1 416.8L509.6 416.7L515.8 416.6L518.9 416.4L522.1 416.2L525.2 415.8L528.3 415.1L531.4 414.2L534.5 412.8L537.6 410.8L540.8 408.1L543.9 404.5L547.0 400.1L550.1 394.8L553.2 388.8L556.3 382.4L562.6 369.2L565.7 362.9L568.8 357.0L571.9 351.5L575.0 346.5L578.2 342.0L581.3 337.8L584.4 334.0L587.5 330.4L590.6 327.2L593.7 324.7L596.9 322.7L600.0 321.1L603.1 319.9L606.2 318.9" stroke="#3a9ab8"/>
<path d="M353.7 415.3L363.1 416.8L428.5 416.6L441.0 416.3L447.2 415.9L453.5 415.3L456.6 414.9L459.7 414.3L462.8 413.6L465.9 412.6L469.1 411.4L472.2 409.8L475.3 407.8L478.4 405.3L481.5 402.2L484.6 398.4L487.8 393.9L490.9 388.7L494.0 382.9L497.1 376.5L503.4 363.4L506.5 357.1L509.6 351.3L512.7 346.1L515.8 341.7L518.9 338.0L522.1 335.0L525.2 332.5L528.3 330.5L531.4 328.9L534.5 327.5L537.6 326.4L540.8 325.5L543.9 324.7L550.1 323.4L559.5 321.9L593.7 317.9L606.2 316.6M353.7 415.8L363.1 416.8L428.5 416.6L441.0 416.3L447.2 416.0L453.5 415.4L456.6 415.0L459.7 414.5L462.8 413.8L465.9 412.9L469.1 411.7L472.2 410.2L475.3 408.4L478.4 406.0L481.5 403.1L484.6 399.5L487.8 395.2L490.9 390.3L494.0 384.6L497.1 378.5L503.4 365.5L506.5 359.3L509.6 353.5L512.7 348.3L515.8 343.8L518.9 340.0L522.1 336.9L525.2 334.4L528.3 332.3L531.4 330.6L534.5 329.2L537.6 328.1L540.8 327.1L543.9 326.3L547.0 325.7L553.2 324.5L565.7 322.7L606.2 318.2M353.7 416.3L363.1 416.8L431.7 416.6L441.0 416.4L447.2 416.0L453.5 415.5L456.6 415.1L459.7 414.6L462.8 414.0L465.9 413.1L469.1 412.0L472.2 410.7L475.3 408.9L478.4 406.7L481.5 403.9L484.6 400.5L487.8 396.5L490.9 391.7L494.0 386.4L497.1 380.4L503.4 367.9L506.5 361.7L509.6 356.0L512.7 350.9L515.8 346.4L518.9 342.7L522.1 339.5L525.2 337.0L528.3 334.9L531.4 333.2L534.5 331.8L537.6 330.7L540.8 329.7L543.9 328.9L547.0 328.2L553.2 327.0L565.7 325.2L606.2 320.7M353.7 415.6L363.1 416.8L453.5 416.7L462.8 416.5L469.1 416.2L475.3 415.6L478.4 415.2L481.5 414.7L484.6 414.0L487.8 413.0L490.9 411.8L494.0 410.2L497.1 408.2L500.2 405.6L503.4 402.5L506.5 398.8L509.6 394.4L512.7 389.4L515.8 383.9L518.9 378.0L528.3 359.7L531.4 354.0L534.5 348.7L537.6 343.9L540.8 339.7L543.9 336.1L547.0 333.0L550.1 330.3L553.2 328.1L556.3 326.3L559.5 324.8L562.6 323.5L565.7 322.5L568.8 321.6L571.9 320.9L575.0 320.3L581.3 319.4L587.5 318.7L600.0 317.8L606.2 317.5M353.7 415.8L363.1 416.8L456.6 416.6L465.9 416.4L472.2 416.0L475.3 415.7L478.4 415.3L481.5 414.8L484.6 414.2L487.8 413.3L490.9 412.1L494.0 410.6L497.1 408.7L500.2 406.3L503.4 403.4L506.5 399.8L509.6 395.6L512.7 390.8L515.8 385.5L518.9 379.8L528.3 361.8L531.4 356.1L534.5 350.9L537.6 346.2L540.8 342.0L543.9 338.3L547.0 335.2L550.1 332.5L553.2 330.3L556.3 328.4L559.5 326.9L562.6 325.6L565.7 324.6L568.8 323.7L571.9 323.0L575.0 322.4L581.3 321.4L587.5 320.7L600.0 319.8L606.2 319.5M353.7 416.0L363.1 416.8L456.6 416.6L465.9 416.4L472.2 416.1L475.3 415.8L478.4 415.4L481.5 415.0L484.6 414.3L487.8 413.5L490.9 412.4L494.0 411.0L497.1 409.2L500.2 406.9L503.4 404.1L506.5 400.7L509.6 396.7L512.7 392.1L515.8 387.0L518.9 381.4L528.3 363.8L531.4 358.2L534.5 353.0L537.6 348.3L540.8 344.1L543.9 340.5L547.0 337.3L550.1 334.6L553.2 332.4L556.3 330.5L559.5 329.0L562.6 327.7L565.7 326.6L568.8 325.7L571.9 325.0L575.0 324.4L581.3 323.5L587.5 322.8L600.0 321.8L606.2 321.5M353.7 415.4L363.1 416.8L472.2 416.7L484.6 416.4L490.9 416.0L494.0 415.7L497.1 415.3L500.2 414.8L503.4 414.1L506.5 413.2L509.6 412.0L512.7 410.4L515.8 408.4L518.9 405.9L522.1 402.9L525.2 399.1L528.3 394.8L531.4 389.8L534.5 384.3L537.6 378.5L543.9 366.4L547.0 360.6L550.1 355.2L553.2 350.2L556.3 345.9L559.5 342.1L562.6 338.8L565.7 336.1L568.8 333.8L571.9 332.0L575.0 330.4L578.2 329.2L581.3 328.2L584.4 327.3L587.5 326.6L590.6 326.1L596.9 325.2L603.1 324.6L606.2 324.3M353.7 415.6L363.1 416.8L475.3 416.7L484.6 416.4L490.9 416.1L494.0 415.9L497.1 415.5L500.2 415.1L503.4 414.5L506.5 413.7L509.6 412.6L512.7 411.3L515.8 409.5L518.9 407.3L522.1 404.5L525.2 401.2L528.3 397.2L531.4 392.6L534.5 387.5L537.6 381.9L547.0 364.5L550.1 359.1L553.2 354.2L556.3 349.7L559.5 345.8L562.6 342.5L565.7 339.7L568.8 337.3L571.9 335.4L575.0 333.8L578.2 332.5L581.3 331.4L584.4 330.5L587.5 329.8L590.6 329.2L596.9 328.3L603.1 327.7L606.2 327.4M353.7 415.8L363.1 416.8L475.3 416.7L487.8 416.4L494.0 416.0L497.1 415.7L500.2 415.3L503.4 414.8L506.5 414.1L509.6 413.2L512.7 412.0L515.8 410.4L518.9 408.4L522.1 405.9L525.2 402.9L528.3 399.3L531.4 395.1L534.5 390.3L537.6 385.0L547.0 368.2L550.1 362.9L553.2 357.9L556.3 353.5L559.5 349.5L562.6 346.1L565.7 343.2L568.8 340.8L571.9 338.8L575.0 337.1L578.2 335.8L581.3 334.6L584.4 333.7L587.5 333.0L590.6 332.4L593.7 331.8L600.0 331.1L606.2 330.5M353.7 416.2L363.1 416.8L478.4 416.7L487.8 416.4L494.0 416.1L497.1 415.9L500.2 415.6L503.4 415.1L506.5 414.6L509.6 413.8L512.7 412.8L515.8 411.5L518.9 409.8L522.1 407.7L525.2 405.1L528.3 401.9L531.4 398.1L534.5 393.8L537.6 388.9L540.8 383.6L550.1 367.3L553.2 362.2L556.3 357.5L559.5 353.3L562.6 349.7L565.7 346.6L568.8 343.9L571.9 341.7L575.0 339.9L578.2 338.4L581.3 337.2L584.4 336.2L587.5 335.3L590.6 334.7L593.7 334.1L600.0 333.2L606.2 332.6M353.7 415.6L363.1 416.8L494.0 416.7L506.5 416.4L512.7 416.0L515.8 415.7L518.9 415.3L522.1 414.8L525.2 414.1L528.3 413.2L531.4 412.0L534.5 410.5L537.6 408.5L540.8 406.0L543.9 403.0L547.0 399.4L550.1 395.1L553.2 390.4L556.3 385.2L565.7 368.8L568.8 363.8L571.9 359.2L575.0 355.1L578.2 351.6L581.3 348.6L584.4 346.1L587.5 344.1L590.6 342.4L593.7 341.0L596.9 340.0L600.0 339.1L603.1 338.4L606.2 337.8M353.7 415.4L363.1 416.8L500.2 416.6L509.6 416.4L515.8 416.1L518.9 415.8L522.1 415.5L525.2 415.0L528.3 414.4L531.4 413.6L534.5 412.5L537.6 411.1L540.8 409.4L543.9 407.1L547.0 404.4L550.1 401.1L553.2 397.2L556.3 392.8L559.5 388.0L568.8 372.6L571.9 367.9L575.0 363.5L578.2 359.6L581.3 356.2L584.4 353.3L587.5 350.9L590.6 348.9L593.7 347.3L596.9 346.0L600.0 344.9L603.1 344.0L606.2 343.3M353.7 415.8L363.1 416.8L503.4 416.7L512.7 416.5L518.9 416.2L525.2 415.6L528.3 415.2L531.4 414.7L534.5 414.0L537.6 413.0L540.8 411.8L543.9 410.2L547.0 408.2L550.1 405.7L553.2 402.8L556.3 399.3L559.5 395.4L562.6 391.1L571.9 377.4L575.0 373.1L578.2 369.2L581.3 365.7L584.4 362.7L587.5 360.1L590.6 357.9L593.7 356.1L596.9 354.7L600.0 353.5L603.1 352.5L606.2 351.8" stroke="#b5309b"/></g>
<path class="tk" d="M23.4 272.4v3.3M85.7 272.4v3.3M148.1 272.4v3.3M210.4 272.4v3.3M272.7 272.4v3.3M23.4 423.8v3.3M85.7 423.8v3.3M148.1 423.8v3.3M210.4 423.8v3.3M272.7 423.8v3.3M347.5 272.4v3.3M409.8 272.4v3.3M472.2 272.4v3.3M534.5 272.4v3.3M596.9 272.4v3.3M347.5 423.8v3.3M409.8 423.8v3.3M472.2 423.8v3.3M534.5 423.8v3.3M596.9 423.8v3.3M338.5 259.3h-3.3M338.5 238.8h-3.3M338.5 218.4h-3.3M338.5 197.9h-3.3M338.5 177.5h-3.3M338.5 157.0h-3.3M338.5 417.5h-3.3M338.5 390.8h-3.3M338.5 364.1h-3.3M338.5 337.5h-3.3M338.5 310.8h-3.3"/>
<text class="k" text-anchor="middle" x="23.4" y="435.5">10</text>
<text class="k" text-anchor="middle" x="85.7" y="435.5">20</text>
<text class="k" text-anchor="middle" x="148.1" y="435.5">30</text>
<text class="k" text-anchor="middle" x="210.4" y="435.5">40</text>
<text class="k" text-anchor="middle" x="272.7" y="435.5">50</text>
<text class="k" text-anchor="middle" x="347.5" y="435.5">0</text>
<text class="k" text-anchor="middle" x="409.8" y="435.5">10</text>
<text class="k" text-anchor="middle" x="472.2" y="435.5">20</text>
<text class="k" text-anchor="middle" x="534.5" y="435.5">30</text>
<text class="k" text-anchor="middle" x="596.9" y="435.5">40</text>
<text class="k" text-anchor="end" x="331.7" y="261.7">0</text>
<text class="k" text-anchor="end" x="331.7" y="241.2">1000</text>
<text class="k" text-anchor="end" x="331.7" y="220.8">2000</text>
<text class="k" text-anchor="end" x="331.7" y="200.3">3000</text>
<text class="k" text-anchor="end" x="331.7" y="179.9">4000</text>
<text class="k" text-anchor="end" x="331.7" y="159.4">5000</text>
<text class="k" text-anchor="end" x="331.7" y="419.9">0</text>
<text class="k" text-anchor="end" x="331.7" y="393.2">1000</text>
<text class="k" text-anchor="end" x="331.7" y="366.5">2000</text>
<text class="k" text-anchor="end" x="331.7" y="339.9">3000</text>
<text class="k" text-anchor="end" x="331.7" y="313.2">4000</text>
<text class="t" x="119.6" y="143.2">GEN (FAM)</text>
<text class="t" x="119.6" y="294.6">CB (HEX)</text>
<text class="t" x="505.8" y="143.2">B2M (Tex)</text>
<text class="t" x="505.8" y="294.6">WA (Cy5)</text>
<text class="xl" x="119.4" y="447">Cycles</text>
<text class="xl" x="506" y="447">Cycles</text>
<path d="M223.3 460.5H241.7" stroke="#3a9ab8" stroke-width="1" fill="none"/>
<path d="M320.6 460.5H336.4" stroke="#b5309b" stroke-width="1" fill="none"/>
<text class="lg" x="248.6" y="463.8">Without Saliva</text>
<text class="lg" x="343.3" y="463.8">With Saliva</text>
</svg></body></html>
